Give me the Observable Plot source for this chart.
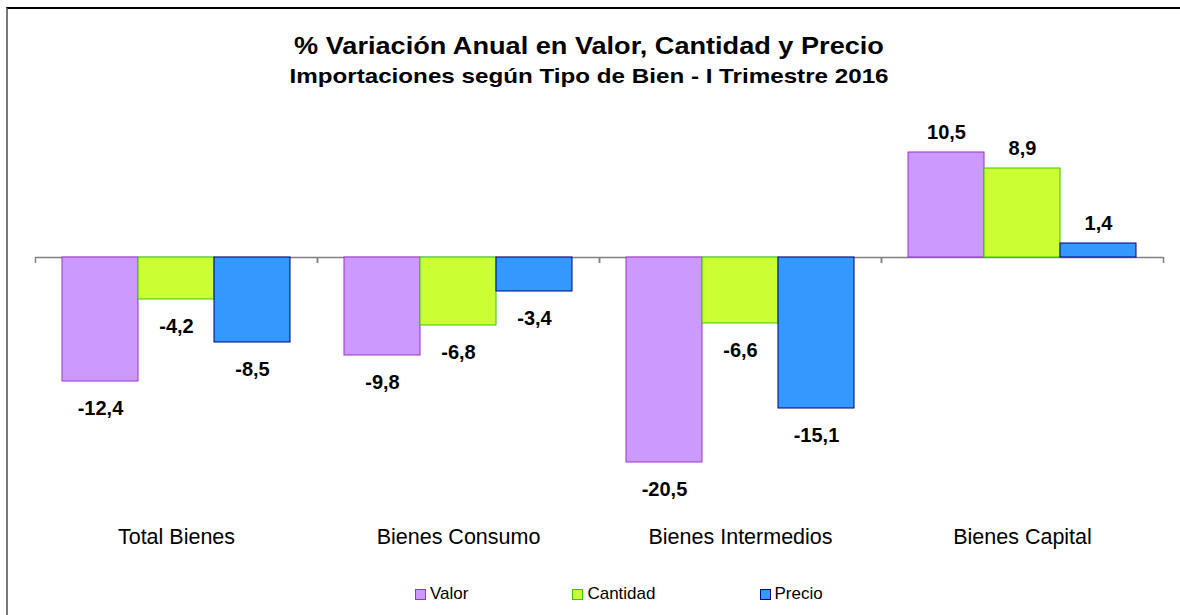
<!DOCTYPE html>
<html>
<head>
<meta charset="utf-8">
<script src="https://cdn.jsdelivr.net/npm/d3@7"></script>
<script src="https://cdn.jsdelivr.net/npm/@observablehq/plot@0.6"></script>
<style>
  html, body { margin: 0; padding: 0; background: #fff; width: 1180px; height: 615px; overflow: hidden; }
  body { position: relative; font-family: "Liberation Sans", Arial, sans-serif; }
  #frame { position: absolute; left: 6px; top: 7px; width: 1200px; height: 640px; border-top: 2px solid #000; border-left: 2px solid #777; }
  .t { position: absolute; left: 0; width: 1178px; text-align: center; font-weight: bold; color: #000; white-space: nowrap; transform-origin: 589px 50%; }
  #title { top: 32px; font-size: 24px; transform: scaleX(1.13); }
  #subtitle { top: 64px; font-size: 20.5px; transform: scaleX(1.18); }
  #chart { position: absolute; left: 0; top: 110px; }
  #legend { position: absolute; left: 415px; top: 584px; display: flex; gap: 104px; font-size: 17px; color: #000; }
  .item { display: flex; align-items: center; gap: 4px; }
  .sw { width: 9px; height: 9px; border: 1px solid; display: inline-block; }
</style>
</head>
<body>
<div id="frame"></div>
<div class="t" id="title">% Variación Anual en Valor, Cantidad y Precio</div>
<div class="t" id="subtitle">Importaciones según Tipo de Bien - I Trimestre 2016</div>
<div id="chart"></div>
<div id="legend"></div>
<script>
const categories = ["Total Bienes", "Bienes Consumo", "Bienes Intermedios", "Bienes Capital"];
const seriesNames = ["Valor", "Cantidad", "Precio"];
const valor = [-12.4, -9.8, -20.5, 10.5];
const cantidad = [-4.2, -6.8, -6.6, 8.9];
const precio = [-8.5, -3.4, -15.1, 1.4];
const fillColors = ["#CC99FF", "#CCFF33", "#3399FF"];
const strokeColors = ["#9933CC", "#33CC00", "#000080"];

const seriesValues = [valor, cantidad, precio];
const data = [];
categories.forEach((c, i) => {
  seriesNames.forEach((s, j) => data.push({category: c, series: s, value: seriesValues[j][i]}));
});

const fmt = v => d3.format(".1f")(v).replace(".", ",").replace("−", "-");

const marks = [
  Plot.ruleY([0], {stroke: "#808080", strokeWidth: 1.5}),
  Plot.ruleX(categories, {fx: d => d, x: () => "Valor", y1: 0, y2: -0.6, dx: -65, stroke: "#808080", strokeWidth: 1.5}),
  Plot.ruleX(categories, {fx: d => d, x: () => "Precio", y1: 0, y2: -0.6, dx: 65, stroke: "#808080", strokeWidth: 1.5})
];
seriesNames.forEach((s, j) => {
  marks.push(Plot.barY(data.filter(d => d.series === s), {
    fx: "category", x: "series", y: "value",
    fill: fillColors[j], stroke: strokeColors[j], strokeWidth: 1
  }));
});
marks.push(Plot.text(data.filter(d => d.value >= 0), {
  fx: "category", x: "series", y: "value", text: d => fmt(d.value),
  dy: -20, fontWeight: "bold", fontSize: 20, fill: "#000"
}));
marks.push(Plot.text(data.filter(d => d.value < 0), {
  fx: "category", x: "series", y: "value", text: d => fmt(d.value),
  dy: 27, fontWeight: "bold", fontSize: 20, fill: "#000"
}));

const chart = Plot.plot({
  width: 1180,
  height: 450,
  marginLeft: 35,
  marginRight: 17,
  marginTop: 27,
  marginBottom: 83,
  style: {fontFamily: "Liberation Sans, Arial, sans-serif", background: "transparent", overflow: "visible"},
  fx: {domain: categories, padding: 0, label: null, axis: "bottom", tickSize: 0, tickPadding: 51},
  x: {domain: seriesNames, paddingInner: 0, paddingOuter: 0.355, axis: null},
  y: {domain: [-22, 12], axis: null},
  marks
});
chart.querySelectorAll("g[aria-label='fx-axis tick label'] text, g[aria-label='fx-axis'] text").forEach(t => { t.style.fontSize = "21.5px"; t.setAttribute("fill", "#000"); });
document.getElementById("chart").appendChild(chart);

const legend = document.getElementById("legend");
seriesNames.forEach((s, j) => {
  const item = document.createElement("div");
  item.className = "item";
  const sw = document.createElement("span");
  sw.className = "sw";
  sw.style.background = fillColors[j];
  sw.style.borderColor = strokeColors[j];
  const lab = document.createElement("span");
  lab.textContent = s;
  item.appendChild(sw);
  item.appendChild(lab);
  legend.appendChild(item);
});
</script>
</body>
</html>
